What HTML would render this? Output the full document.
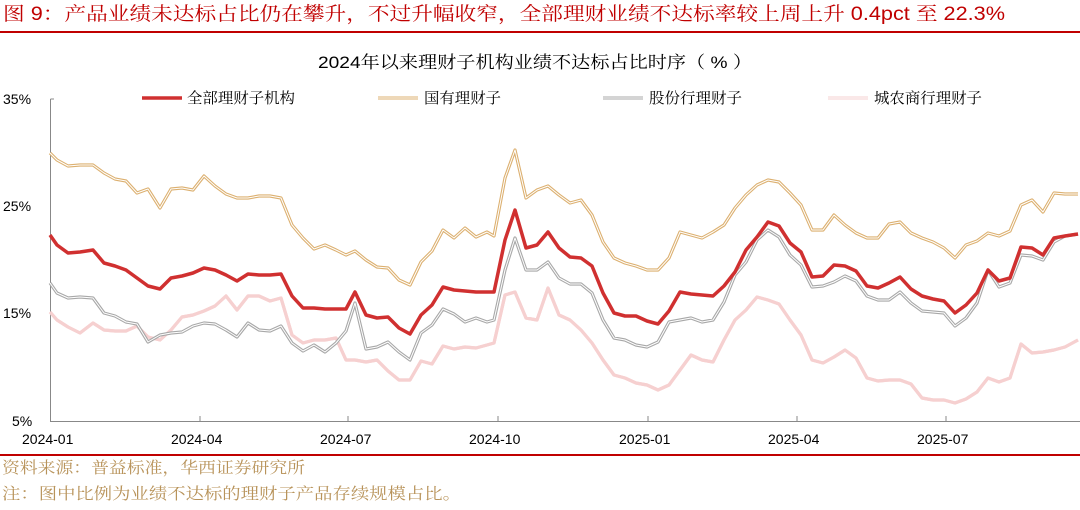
<!DOCTYPE html>
<html><head><meta charset="utf-8"><style>
body{margin:0;background:#fff;width:1080px;height:505px;overflow:hidden;font-family:"Liberation Sans","Noto Sans CJK SC",sans-serif;}
</style></head><body>
<svg width="1080" height="505" xmlns="http://www.w3.org/2000/svg" font-family="Liberation Sans, Noto Sans CJK SC, sans-serif">
<text x="3" y="20" font-size="19" fill="#c00000" font-family="Liberation Sans, Noto Serif CJK SC, serif" textLength="1002" lengthAdjust="spacingAndGlyphs">图 9：产品业绩未达标占比仍在攀升，不过升幅收窄，全部理财业绩不达标率较上周上升 0.4pct 至 22.3%</text>
<line x1="0" y1="32" x2="1080" y2="32" stroke="#c00000" stroke-width="2"/>
<text x="318" y="68" font-size="17" fill="#000" font-family="Liberation Sans, Noto Serif CJK SC, serif" textLength="434" lengthAdjust="spacingAndGlyphs">2024年以来理财子机构业绩不达标占比时序（ % ）</text>
<g font-size="14" fill="#000">
<text x="3" y="104">35%</text><text x="3" y="211">25%</text><text x="3" y="318">15%</text><text x="12" y="426">5%</text>
<text x="22" y="444">2024-01</text><text x="171" y="444">2024-04</text><text x="320" y="444">2024-07</text><text x="469" y="444">2024-10</text><text x="619" y="444">2025-01</text><text x="768" y="444">2025-04</text><text x="917" y="444">2025-07</text>
</g>
<g stroke="#888" stroke-width="1" fill="none">
<path d="M50.5 99 H54 M50.5 99 V421.5 H1080"/>
<path d="M200 421 v-5 M348 421 v-5 M498 421 v-5 M648 421 v-5 M797 421 v-5 M946 421 v-5"/>
</g>
<g font-size="15" fill="#000" font-family="Liberation Serif, Noto Serif CJK SC, serif">
<line x1="142" y1="98" x2="182" y2="98" stroke="#d03030" stroke-width="3.5"/><text x="187" y="103" textLength="108" lengthAdjust="spacingAndGlyphs">全部理财子机构</text>
<line x1="378" y1="98" x2="418" y2="98" stroke="#dcb070" stroke-width="3"/><line x1="378" y1="98" x2="418" y2="98" stroke="#fff" stroke-width="1"/><text x="424" y="103" textLength="77" lengthAdjust="spacingAndGlyphs">国有理财子</text>
<line x1="603" y1="98" x2="643" y2="98" stroke="#aaa" stroke-width="3"/><line x1="603" y1="98" x2="643" y2="98" stroke="#fff" stroke-width="1"/><text x="649" y="103" textLength="93" lengthAdjust="spacingAndGlyphs">股份行理财子</text>
<line x1="828" y1="98" x2="868" y2="98" stroke="#f6d0d0" stroke-width="3"/><line x1="828" y1="98" x2="868" y2="98" stroke="#fff" stroke-width="1"/><text x="874" y="103" textLength="108" lengthAdjust="spacingAndGlyphs">城农商行理财子</text>
</g>
<g fill="none" stroke-linejoin="round">
<polyline id="p" stroke="#f6d0d0" stroke-width="3.2" points="50,312 57,320 68,327 80,333 93,323 104,330 115,331 126,331 137,326 148,337 160,340 171,330 182,317 193,315 204,311 215,306 226,296 237,310 248,296 259,296 270,301 281,298 292,335 303,343 314,340 325,340 336,338 346,360 355,360 366,362 377,360 388,371 399,380 410,380 421,361 432,364 443,346 454,349 465,347 476,348 487,345 494,343 505,295 515,292 526,318 537,320 548,288 559,315 570,320 581,330 592,343 603,360 614,375 625,378 636,383 647,385 658,390 669,385 680,370 691,355 702,360 713,362 724,340 735,320 746,310 757,297 768,300 779,304 790,320 801,335 812,360 823,363 834,357 845,350 856,358 867,378 878,381 889,380 900,380 911,384 922,398 933,400 944,400 955,403 966,399 977,392 988,378 999,382 1010,378 1021,344 1032,353 1043,352 1054,350 1065,347 1078,340"/>
<use href="#p" stroke="#fff" stroke-width="1"/>
<polyline id="g" stroke="#a8a8a8" stroke-width="3.2" points="50,283 57,293 68,298 80,297 93,298 104,313 115,316 126,322 137,324 148,342 160,335 171,333 182,332 193,326 204,323 215,324 226,330 237,337 248,323 259,330 270,331 281,326 292,343 303,351 314,345 325,352 336,343 346,331 355,303 366,349 377,347 388,342 399,352 410,360 421,333 432,325 443,309 454,314 465,322 476,318 487,322 494,320 505,270 515,238 526,270 537,270 548,262 559,278 570,284 581,284 592,293 603,320 614,338 625,340 636,345 647,347 658,342 669,322 680,320 691,318 702,322 713,320 724,302 735,275 746,262 757,240 768,230 779,237 790,255 801,265 812,287 823,286 834,282 845,276 856,281 867,296 878,300 889,300 900,292 911,303 922,311 933,312 944,313 955,326 966,318 977,303 988,270 999,287 1010,283 1021,255 1032,256 1043,260 1054,242 1065,236 1078,234"/>
<polyline stroke="#fff" stroke-width="1" points="50,283 57,293 68,298 80,297 93,298 104,313 115,316 126,322 137,324 148,342 160,335 171,333 182,332 193,326 204,323 215,324 226,330 237,337 248,323 259,330 270,331 281,326 292,343 303,351 314,345 325,352 336,343 346,331 355,303 366,349 377,347 388,342 399,352 410,360 421,333 432,325 443,309 454,314 465,322 476,318 487,322 494,320 505,270 515,238 526,270 537,270 548,262 559,278 570,284 581,284 592,293 603,320 614,338 625,340 636,345 647,347 658,342 669,322 680,320 691,318 702,322 713,320 724,302 735,275 746,262 757,240 768,230 779,237 790,255 801,265 812,287 823,286 834,282 845,276 856,281 867,296 878,300 889,300 900,292 911,303 922,311 933,312 944,313 955,326 966,318 977,303 988,270 999,287 1010,283 1021,255 1032,256 1043,260 1054,242 1065,236 1078,234"/>
<polyline stroke="#dcb070" stroke-width="3.2" points="50,153 57,160 68,166 80,165 93,165 104,173 115,179 126,181 137,193 148,189 160,208 171,189 182,188 193,190 204,176 215,186 226,194 237,198 248,198 259,196 270,196 281,198 292,225 303,238 314,249 325,245 336,250 346,255 355,251 366,260 377,267 388,268 399,280 410,285 421,262 432,251 443,230 454,238 465,228 476,237 487,232 494,236 505,178 515,150 526,198 537,190 548,186 559,195 570,203 581,200 592,215 603,242 614,258 625,263 636,266 647,270 658,270 669,258 680,232 691,235 702,238 713,232 724,225 735,208 746,195 757,185 768,180 779,182 790,193 801,205 812,230 823,230 834,215 845,225 856,233 867,238 878,238 889,224 900,222 911,233 922,238 933,242 944,248 955,258 966,245 977,241 988,233 999,236 1010,231 1021,205 1032,200 1043,212 1054,193 1065,194 1078,194"/>
<polyline stroke="#fff" stroke-width="1" points="50,153 57,160 68,166 80,165 93,165 104,173 115,179 126,181 137,193 148,189 160,208 171,189 182,188 193,190 204,176 215,186 226,194 237,198 248,198 259,196 270,196 281,198 292,225 303,238 314,249 325,245 336,250 346,255 355,251 366,260 377,267 388,268 399,280 410,285 421,262 432,251 443,230 454,238 465,228 476,237 487,232 494,236 505,178 515,150 526,198 537,190 548,186 559,195 570,203 581,200 592,215 603,242 614,258 625,263 636,266 647,270 658,270 669,258 680,232 691,235 702,238 713,232 724,225 735,208 746,195 757,185 768,180 779,182 790,193 801,205 812,230 823,230 834,215 845,225 856,233 867,238 878,238 889,224 900,222 911,233 922,238 933,242 944,248 955,258 966,245 977,241 988,233 999,236 1010,231 1021,205 1032,200 1043,212 1054,193 1065,194 1078,194"/>
<polyline stroke="#d03030" stroke-width="3.5" points="50,235 57,245 68,253 80,252 93,250 104,263 115,266 126,270 137,278 148,286 160,289 171,278 182,276 193,273 204,268 215,270 226,275 237,281 248,274 259,275 270,275 281,274 292,296 303,308 314,308 325,309 336,309 346,309 355,292 366,315 377,318 388,317 399,328 410,334 421,315 432,305 443,287 454,290 465,291 476,292 487,292 494,292 505,240 515,210 526,248 537,245 548,232 559,248 570,257 581,258 592,266 603,293 614,313 625,316 636,316 647,321 658,324 669,311 680,292 691,294 702,295 713,296 724,286 735,272 746,250 757,237 768,222 779,226 790,243 801,252 812,277 823,276 834,265 845,266 856,271 867,286 878,288 889,283 900,277 911,289 922,296 933,299 944,301 955,313 966,305 977,293 988,270 999,281 1010,278 1021,247 1032,248 1043,255 1054,238 1065,236 1078,234"/>
</g>
<line x1="0" y1="455" x2="1080" y2="455" stroke="#c00000" stroke-width="2"/>
<g font-size="16" fill="#b8935a" font-family="Liberation Serif, Noto Serif CJK SC, serif">
<text x="2" y="473" textLength="303" lengthAdjust="spacingAndGlyphs">资料来源：普益标准，华西证券研究所</text>
<text x="2" y="499" textLength="459" lengthAdjust="spacingAndGlyphs">注：图中比例为业绩不达标的理财子产品存续规模占比。</text>
</g>
</svg>
</body></html>
